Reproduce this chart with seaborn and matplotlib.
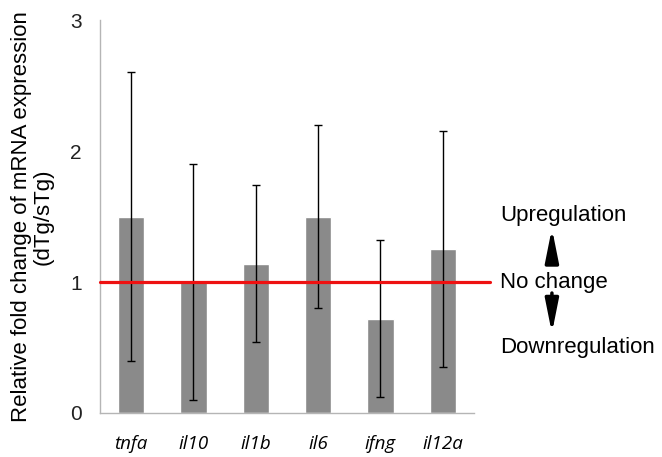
import matplotlib
matplotlib.use("Agg")
import matplotlib.pyplot as plt
import pandas as pd
import seaborn as sns
from matplotlib.ticker import FixedLocator

# values
genes = ["tnfa", "il10", "il1b", "il6", "ifng", "il12a"]
fold_change = [1.50, 1.00, 1.14, 1.50, 0.72, 1.25]
err = [1.10, 0.90, 0.60, 0.70, 0.60, 0.90]
y_ticks = [0, 1, 2, 3]

sns.set_style("white")
plt.rcParams["font.family"] = ["Liberation Sans", "DejaVu Sans"]
plt.rcParams["text.color"] = "black"
plt.rcParams["axes.labelcolor"] = "black"

df = pd.DataFrame({"gene": genes, "fold": fold_change, "err": err})

fig, ax = plt.subplots(figsize=(6.62, 4.57), dpi=100)
fig.subplots_adjust(left=0.151, right=0.716, bottom=0.0963, top=0.956)

sns.barplot(data=df, x="gene", y="fold", color="#8a8a8a", saturation=1,
            width=0.42, errorbar=None, ax=ax)
ax.errorbar(range(len(df)), df.fold, yerr=df.err, fmt="none",
            ecolor="black", elinewidth=1, capsize=3, capthick=1, zorder=3)

# no-change reference line, running a bit past the axis
ax.axhline(1, xmin=0, xmax=1.043, color="#ee1111", lw=2.3, clip_on=False, zorder=4)

ax.set_xlim(-0.5, len(genes) - 0.5)
ax.set_ylim(0, 3)
ax.set_yticks(y_ticks)
ax.set_xlabel("")
ax.set_ylabel("Relative fold change of mRNA expression\n(dTg/sTg)",
              fontsize=16, linespacing=1.0, labelpad=12)

for s in ["top", "right"]:
    ax.spines[s].set_visible(False)
for s in ["left", "bottom"]:
    ax.spines[s].set_color("#b5b5b5")
    ax.spines[s].set_linewidth(1)

ax.tick_params(axis="y", length=5, width=1, color="#b5b5b5", labelsize=15,
               labelcolor="#222222", pad=8)
ax.tick_params(axis="x", which="major", length=0, pad=16, labelcolor="black")
ax.xaxis.set_minor_locator(FixedLocator([i - 0.5 for i in range(len(genes) + 1)]))
ax.tick_params(axis="x", which="minor", length=5, width=1, color="#b5b5b5")
for lab in ax.get_xticklabels():
    lab.set_fontfamily(["Open Sans", "DejaVu Sans"])
    lab.set_fontstyle("italic")
    lab.set_fontsize(13.5)

# annotations on the right
tx = 5.92
ax.text(tx, 1.51, "Upregulation", fontsize=16, va="center", ha="left", clip_on=False)
ax.text(tx, 1.0, "No change", fontsize=16, va="center", ha="left", clip_on=False)
ax.text(tx, 0.50, "Downregulation", fontsize=16, va="center", ha="left", clip_on=False)
arrow = dict(arrowstyle="-|>,head_length=2.0,head_width=0.4", color="black",
             lw=2.5, shrinkA=0, shrinkB=0, mutation_scale=10)
ax.annotate("", xy=(6.75, 1.41), xytext=(6.75, 1.145), arrowprops=arrow,
            annotation_clip=False)
ax.annotate("", xy=(6.75, 0.61), xytext=(6.75, 0.916), arrowprops=arrow,
            annotation_clip=False)

fig.savefig("out.png", dpi=100)
